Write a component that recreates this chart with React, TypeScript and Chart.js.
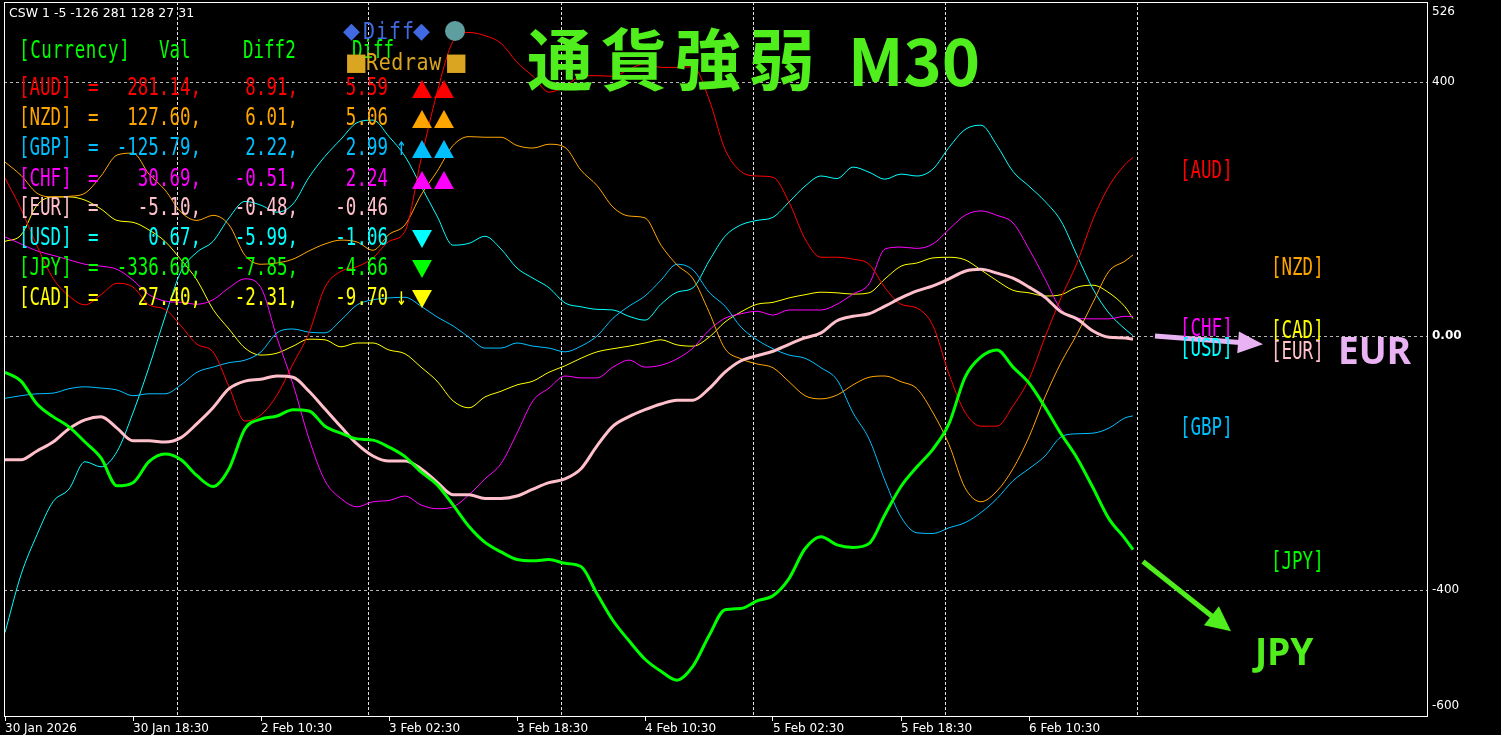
import React, { useEffect, useRef } from "react";
import { Chart, registerables } from "chart.js";

Chart.register(...registerables);

// M30 bar index of each sampled point
const BARS = [
  0, 4, 8, 12, 16, 20, 24, 28, 32, 36, 40, 44, 48, 52, 56, 60, 64, 68, 72, 76,
  80, 84, 88, 92, 96, 100, 104, 108, 112, 116, 120, 124, 128, 132, 136, 140, 144, 148, 152, 156,
  160, 164, 168, 172, 176, 180, 184, 188, 192, 196, 200, 204, 208, 212, 216, 220, 224, 228, 232, 236,
  240, 244, 248, 252, 256, 260, 264, 268, 272, 276, 280, 282,
];

const AUD = [
  249, 200, 142, 91, 63, 49, 65, 83, 77, 49, 42, 16, -13, -25, -80, -134, -124, -93, -44, 5,
  77, 102, 109, 123, 149, 165, 278, 383, 464, 478, 473, 461, 431, 409, 384, 393, 409, 410, 409, 420,
  429, 423, 423, 424, 373, 294, 259, 252, 250, 211, 153, 124, 124, 121, 113, 76, 50, 44, 16, -60,
  -120, -142, -142, -110, -68, -2, 60, 115, 184, 236, 270, 281.14,
];
const NZD = [
  274, 253, 225, 219, 220, 225, 252, 285, 288, 255, 230, 195, 182, 190, 175, 127, 113, 115, 121, 134,
  145, 151, 148, 135, 160, 175, 222, 259, 300, 314, 313, 313, 300, 296, 302, 297, 261, 237, 203, 189,
  186, 143, 112, 90, 38, -20, -36, -44, -50, -72, -94, -99, -93, -77, -65, -63, -72, -83, -121, -171,
  -239, -261, -244, -209, -159, -96, -42, 3, 53, 102, 118, 127.6,
];
const GBP = [
  -98, -94, -91, -90, -83, -80, -82, -85, -94, -91, -91, -77, -57, -49, -42, -38, -25, 5, 11, 6,
  5, 25, 49, 57, 60, 61, 47, 30, 16, -2, -19, -19, -11, -16, -19, -25, -16, 0, 28, 47,
  63, 88, 113, 104, 69, 47, 14, -6, -20, -30, -35, -50, -69, -121, -162, -228, -285, -310, -311, -302,
  -294, -278, -256, -228, -209, -189, -159, -154, -153, -145, -129, -125.79,
];
const CHF = [
  156, 145, 134, 127, 120, 113, 110, 105, 88, 65, 55, 53, 50, 57, 76, 90, 76, -3, -76, -162,
  -228, -256, -269, -261, -259, -252, -266, -272, -269, -250, -225, -201, -153, -102, -82, -63, -66, -66, -49, -38,
  -49, -46, -36, -19, 9, 28, 35, 39, 33, 41, 41, 41, 50, 66, 82, 137, 140, 138, 145, 168,
  190, 197, 190, 178, 137, 90, 42, 28, 27, 27, 31, 30.69,
];
const EUR = [
  -195, -195, -181, -167, -146, -132, -127, -145, -165, -165, -167, -160, -138, -113, -83, -71, -68, -63, -65, -87,
  -115, -143, -170, -189, -197, -197, -209, -230, -250, -250, -256, -256, -252, -241, -231, -225, -209, -173, -142, -127,
  -116, -107, -101, -101, -83, -57, -39, -31, -24, -13, -3, 5, 24, 31, 35, 47, 60, 71, 79, 90,
  102, 105, 99, 91, 77, 61, 38, 27, 8, -2, -3, -5.1,
];
const USD = [
  -467, -376, -313, -261, -241, -198, -206, -182, -121, -49, 30, 102, 132, 149, 186, 212, 206, 195, 208, 250,
  283, 310, 336, 340, 314, 283, 236, 189, 143, 146, 157, 137, 107, 91, 76, 52, 46, 42, 41, 31,
  25, 50, 69, 76, 118, 157, 175, 182, 187, 211, 236, 252, 248, 266, 258, 247, 255, 252, 263, 297,
  325, 332, 300, 259, 236, 212, 181, 127, 74, 36, 11, 0.67,
];
const JPY = [
  -57, -71, -107, -127, -143, -167, -192, -236, -231, -198, -186, -195, -220, -237, -209, -146, -131, -126, -116, -118,
  -142, -153, -162, -164, -175, -190, -214, -234, -266, -300, -325, -340, -352, -354, -352, -358, -363, -406, -448, -480,
  -509, -528, -542, -520, -472, -431, -429, -417, -409, -382, -335, -316, -329, -333, -327, -281, -237, -206, -178, -138,
  -65, -33, -22, -49, -74, -112, -154, -192, -239, -288, -319, -336.6,
];
const CAD = [
  149, 159, 206, 219, 219, 214, 200, 182, 179, 167, 149, 120, 88, 42, 11, -19, -30, -27, -16, -5,
  -6, -17, -11, -11, -22, -28, -49, -71, -102, -113, -96, -87, -77, -71, -57, -47, -35, -25, -20, -16,
  -11, -6, -14, -16, -2, 22, 38, 50, 53, 60, 65, 69, 68, 66, 68, 90, 110, 115, 123, 124,
  120, 104, 87, 72, 68, 63, 65, 77, 80, 68, 46, 27.4,
];

// axis ticks
const X_TICK_BARS = [0, 32, 64, 96, 128, 160, 192, 224, 256];
const X_TICK_LABELS = [
  "30 Jan 2026", "30 Jan 18:30", "2 Feb 10:30", "3 Feb 02:30", "3 Feb 18:30",
  "4 Feb 10:30", "5 Feb 02:30", "5 Feb 18:30", "6 Feb 10:30",
];
const X_GRID_BARS = [43, 91, 139, 187, 235, 283];
const Y_MIN = -600;
const Y_MAX = 526;
const Y_GRID = [-400, 0, 400];
const Y_TICK_POS = [Y_MIN + 18, -400, 0, 400, Y_MAX - 15];
const Y_TICK_LABELS = ["-600", "-400", "0.00", "400", "526"];

// legend table
const CURRENCIES = ["AUD", "NZD", "GBP", "CHF", "EUR", "USD", "JPY", "CAD"];
const CUR_COLORS = ["#FF0000", "#FFA500", "#00BFFF", "#FF00FF", "#FFC0CB", "#00FFFF", "#00FF00", "#FFFF00"];
const VAL_TEXT = ["281.14,", "127.60,", "-125.79,", "30.69,", "-5.10,", "0.67,", "-336.60,", "27.40,"];
const DIFF2_TEXT = ["8.91,", "6.01,", "2.22,", "-0.51,", "-0.48,", "-5.99,", "-7.85,", "-2.31,"];
const DIFF_TEXT = ["5.59", "5.06", "2.99", "2.24", "-0.46", "-1.06", "-4.66", "-9.70"];
const TREND_ARROW = ["", "", "↑", "", "", "", "", "↓"];
const TRIANGLES = ["▲▲", "▲▲", "▲▲", "▲▲", "", "▼", "▼", "▼"];

// right-side labels
const RIGHT_LABELS = ["[AUD]", "[NZD]", "[CHF]", "[USD]", "[CAD]", "[EUR]", "[GBP]", "[JPY]"];
const RIGHT_LABEL_COLORS = ["#FF0000", "#FFA500", "#FF00FF", "#00FFFF", "#FFFF00", "#FFC0CB", "#00BFFF", "#00FF00"];
const RIGHT_LABEL_POS = [[1180, 170], [1271, 267], [1180, 328], [1180, 348], [1271, 330], [1271, 351], [1180, 427], [1271, 561]];

const TITLE_GREEN = "#4FEE1C";
const EUR_PINK = "#E9B3F3";

// annotation arrows in data space [bar, value]
const ARROWS = [
  { from: [287.5, 0], to: [314.5, -13], color: EUR_PINK, head: 25, half: 11 },
  { from: [284.5, -355], to: [306.5, -465], color: TITLE_GREEN, head: 25, half: 12 },
];

const MONO = '"DejaVu Sans Mono", "Liberation Mono", monospace';

type TxtProps = {
  x: number; y: number; text: string; color: string; size?: number; font?: string;
  weight?: number | string; sy?: number; align?: "left" | "right" | "center"; ls?: number;
};

function Txt({ x, y, text, color, size = 17.5, font = MONO, weight = 400, sy = 1.45, align = "left", ls = 0 }: TxtProps) {
  const tx = align === "left" ? "0" : align === "right" ? "-100%" : "-50%";
  return (
    <div
      style={{
        position: "absolute", left: x, top: y, color, fontFamily: font, fontSize: size, fontWeight: weight,
        lineHeight: 1, whiteSpace: "pre", letterSpacing: ls, transform: `translate(${tx}, -50%) scaleY(${sy})`,
        transformOrigin: "center center", pointerEvents: "none",
      }}
    >
      {text}
    </div>
  );
}

function drawArrow(ctx: CanvasRenderingContext2D, x1: number, y1: number, x2: number, y2: number, color: string, head: number, half: number) {
  const dx = x2 - x1, dy = y2 - y1;
  const L = Math.hypot(dx, dy);
  const ux = dx / L, uy = dy / L;
  const bx = x2 - ux * head, by = y2 - uy * head;
  ctx.save();
  ctx.strokeStyle = color;
  ctx.fillStyle = color;
  ctx.lineWidth = 5;
  ctx.beginPath();
  ctx.moveTo(x1, y1);
  ctx.lineTo(bx + ux * 2, by + uy * 2);
  ctx.stroke();
  ctx.beginPath();
  ctx.moveTo(x2, y2);
  ctx.lineTo(bx - uy * half, by + ux * half);
  ctx.lineTo(bx + uy * half, by - ux * half);
  ctx.closePath();
  ctx.fill();
  ctx.restore();
}

const framePlugin = {
  id: "frame",
  afterDraw(chart: any) {
    const { ctx, chartArea: a } = chart;
    ctx.save();
    ctx.strokeStyle = "#ffffff";
    ctx.lineWidth = 1;
    ctx.strokeRect(a.left + 0.5, a.top + 0.5, a.right - a.left - 1, a.bottom - a.top - 1);
    ctx.restore();
    const xs = chart.scales.x, ys = chart.scales.y;
    ARROWS.forEach((ar) => {
      drawArrow(
        ctx,
        xs.getPixelForValue(ar.from[0]), ys.getPixelForValue(ar.from[1]),
        xs.getPixelForValue(ar.to[0]), ys.getPixelForValue(ar.to[1]),
        ar.color, ar.head, ar.half,
      );
    });
  },
};

const SERIES = [
  { label: "JPY", data: JPY, color: "#00FF00", width: 3 },
  { label: "EUR", data: EUR, color: "#FFC0CB", width: 3 },
  { label: "AUD", data: AUD, color: "#FF0000", width: 1 },
  { label: "NZD", data: NZD, color: "#FFA500", width: 1 },
  { label: "GBP", data: GBP, color: "#00BFFF", width: 1 },
  { label: "CHF", data: CHF, color: "#FF00FF", width: 1 },
  { label: "USD", data: USD, color: "#00FFFF", width: 1 },
  { label: "CAD", data: CAD, color: "#FFFF00", width: 1 },
];

const X_MIN = -0.25;
const X_MAX = 355.75;

export default function App() {
  const canvasRef = useRef<HTMLCanvasElement | null>(null);

  useEffect(() => {
    document.body.style.margin = "0";
    document.body.style.background = "#000";
    const canvas = canvasRef.current;
    if (!canvas) return;
    const zeroPad = (s: any) => { s.paddingLeft = 0; s.paddingRight = 0; s.paddingTop = 0; s.paddingBottom = 0; };
    const chart = new Chart(canvas, {
      type: "line",
      data: {
        datasets: SERIES.map((s) => ({
          label: s.label,
          data: BARS.map((b, i) => ({ x: b, y: s.data[i] })),
          borderColor: s.color,
          backgroundColor: s.color,
          borderWidth: s.width,
          pointRadius: 0,
          cubicInterpolationMode: "monotone",
          fill: false,
        })),
      },
      options: {
        animation: false,
        responsive: false,
        maintainAspectRatio: false,
        events: [],
        layout: { padding: { left: 4, top: 2, right: 0, bottom: 0 } },
        plugins: { legend: { display: false }, tooltip: { enabled: false } },
        scales: {
          x: {
            type: "linear",
            position: "bottom",
            min: X_MIN,
            max: X_MAX,
            afterBuildTicks: (scale: any) => { scale.ticks = X_TICK_BARS.map((v) => ({ value: v })); },
            afterFit: (scale: any) => { scale.height = 18; zeroPad(scale); },
            ticks: {
              autoSkip: false,
              maxRotation: 0,
              minRotation: 0,
              align: "start",
              padding: 1,
              color: "#ffffff",
              font: { family: "DejaVu Sans", size: 12 },
              callback: (_v: any, i: number) => X_TICK_LABELS[i],
            },
            grid: { drawOnChartArea: false, drawTicks: true, tickLength: 4, color: "#ffffff", tickColor: "#ffffff" },
            border: { display: false },
          },
          x2: {
            type: "linear",
            position: "top",
            min: X_MIN,
            max: X_MAX,
            afterBuildTicks: (scale: any) => { scale.ticks = X_GRID_BARS.map((v) => ({ value: v })); },
            afterFit: (scale: any) => { scale.height = 0; zeroPad(scale); },
            ticks: { display: false },
            grid: { drawOnChartArea: true, drawTicks: false, color: "rgba(235,235,235,0.95)", lineWidth: 1 },
            border: { display: false, dash: [3, 2] },
          },
          y: {
            type: "linear",
            position: "right",
            min: Y_MIN,
            max: Y_MAX,
            afterBuildTicks: (scale: any) => { scale.ticks = Y_TICK_POS.map((v) => ({ value: v })); },
            afterFit: (scale: any) => { scale.width = 73; zeroPad(scale); },
            ticks: {
              autoSkip: false,
              padding: 4,
              color: "#ffffff",
              font: (ctx: any) => ({
                family: "DejaVu Sans",
                size: 12,
                weight: ctx.tick && ctx.tick.value === 0 ? "bold" : "normal",
              }),
              callback: (_v: any, i: number) => Y_TICK_LABELS[i],
            },
            grid: {
              drawTicks: false,
              color: (ctx: any) =>
                ctx.tick && Y_GRID.includes(ctx.tick.value) ? "rgba(200,200,200,0.9)" : "rgba(0,0,0,0)",
            },
            border: { display: false, dash: [3, 3] },
          },
        },
      },
      plugins: [framePlugin],
    } as any);
    return () => chart.destroy();
  }, []);

  const rowY = [87, 117, 147, 178, 207, 237, 267, 297];

  return (
    <div style={{ position: "relative", width: 1501, height: 735, background: "#000", overflow: "hidden" }}>
      <canvas
        ref={canvasRef}
        width={1501}
        height={735}
        style={{ position: "absolute", left: 0, top: 0, width: 1501, height: 735 }}
      />
      <Txt x={9} y={13} text="CSW 1 -5 -126 281 128 27 31" color="#ffffff" size={12.5} font="DejaVu Sans" sy={1} />

      <Txt x={19} y={50} text="[Currency]" color="#00FF00" ls={0.6} />
      <Txt x={159} y={50} text="Val" color="#00FF00" />
      <Txt x={243} y={50} text="Diff2" color="#00FF00" />
      <Txt x={352} y={50} text="Diff" color="#00FF00" />

      <Txt x={343} y={31} text="◆" color="#4169E1" size={22} font="DejaVu Sans" sy={1} />
      <Txt x={363} y={31} text="Diff" color="#4169E1" size={20} sy={1.15} ls={1} />
      <Txt x={413} y={31} text="◆" color="#4169E1" size={22} font="DejaVu Sans" sy={1} />
      <div style={{ position: "absolute", left: 445, top: 21, width: 20, height: 20, borderRadius: 10, background: "#5F9EA0" }} />
      <Txt x={345} y={62} text="■" color="#DAA520" size={24} font="DejaVu Sans" sy={1} />
      <Txt x={366} y={62} text="Redraw" color="#DAA520" size={20} sy={1.15} ls={0.6} />
      <Txt x={445} y={62} text="■" color="#DAA520" size={24} font="DejaVu Sans" sy={1} />

      {CURRENCIES.map((c, i) => (
        <React.Fragment key={c}>
          <Txt x={19} y={rowY[i]} text={`[${c}]`} color={CUR_COLORS[i]} />
          <Txt x={88} y={rowY[i]} text="=" color={CUR_COLORS[i]} />
          <Txt x={201} y={rowY[i]} text={VAL_TEXT[i]} color={CUR_COLORS[i]} align="right" />
          <Txt x={298} y={rowY[i]} text={DIFF2_TEXT[i]} color={CUR_COLORS[i]} align="right" />
          <Txt x={388} y={rowY[i]} text={DIFF_TEXT[i]} color={CUR_COLORS[i]} align="right" />
          {TREND_ARROW[i] && <Txt x={396} y={rowY[i]} text={TREND_ARROW[i]} color={CUR_COLORS[i]} />}
          {TRIANGLES[i] && (
            <Txt x={412} y={rowY[i]} text={TRIANGLES[i]} color={CUR_COLORS[i]} size={26} font="DejaVu Sans" sy={0.9} ls={2} />
          )}
        </React.Fragment>
      ))}

      <Txt x={527} y={55} text="通貨強弱" color={TITLE_GREEN} size={66} font='"Noto Sans CJK JP", "Noto Sans CJK SC", sans-serif' weight={700} sy={1.02} ls={8} />
      <Txt x={848} y={58} text="M30" color={TITLE_GREEN} size={65} font='"Noto Sans CJK JP", "Noto Sans", sans-serif' weight={700} sy={1} />

      {RIGHT_LABELS.map((t, i) => (
        <Txt key={t} x={RIGHT_LABEL_POS[i][0]} y={RIGHT_LABEL_POS[i][1]} text={t} color={RIGHT_LABEL_COLORS[i]} />
      ))}

      <Txt x={1338} y={349} text="EUR" color={EUR_PINK} size={37} font='"Noto Sans", sans-serif' weight={700} sy={1} />
      <Txt x={1255} y={650} text="JPY" color={TITLE_GREEN} size={37} font='"Noto Sans", sans-serif' weight={700} sy={1} />
    </div>
  );
}
